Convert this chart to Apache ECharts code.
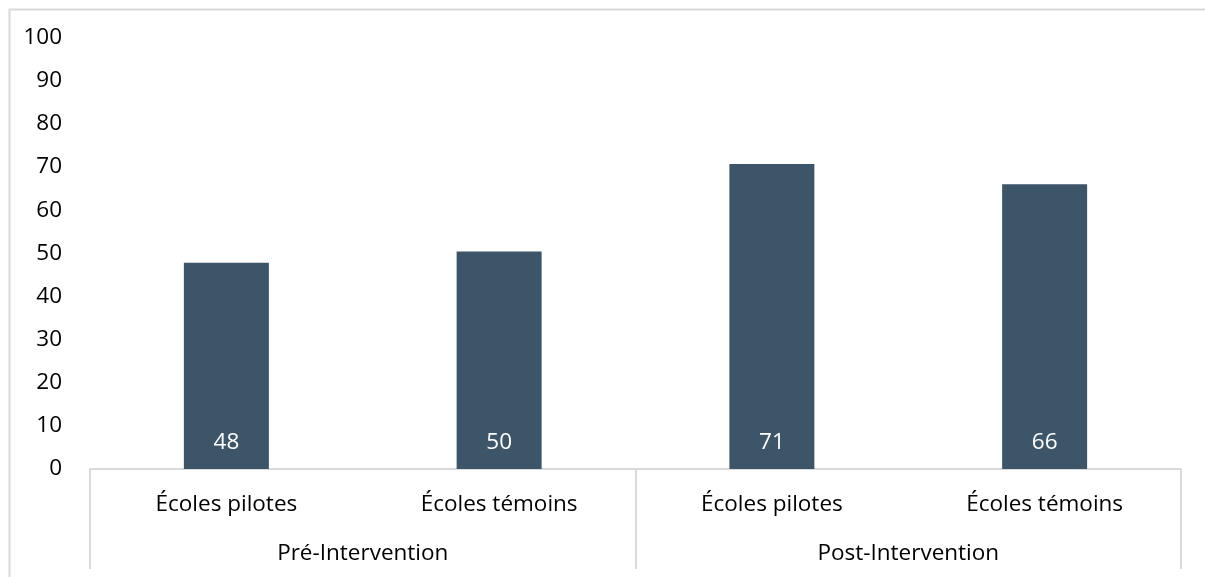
<!DOCTYPE html>
<html><head><meta charset="utf-8">
<script src="https://cdn.jsdelivr.net/npm/echarts@6/dist/echarts.min.js"></script>
<style>html,body{margin:0;padding:0;background:#fff}#c{width:1205px;height:577px}</style>
</head><body><div id="c"></div>
<script>
const categories = ["Écoles pilotes", "Écoles témoins", "Écoles pilotes", "Écoles témoins"];
const groups = ["Pré-Intervention", "Post-Intervention"];
const values = [47.8, 50.4, 70.7, 66.0];
const yTicks = { min: 0, max: 100, interval: 10 };

const chart = echarts.init(document.getElementById('c'), null, { renderer: 'canvas' });
const font = '"Open Sans", "Noto Sans", sans-serif';
const fs = 22.5;
chart.setOption({
  animation: false,
  textStyle: { fontFamily: font },
  graphic: [{
    type: 'rect', left: 7, top: 7, silent: true,
    shape: { x: 0, y: 0, width: 1260, height: 640 },
    style: { fill: 'none', stroke: '#d9d9d9', lineWidth: 2 }
  }],
  grid: { left: 90, right: 24, top: 37.5, bottom: 108, containLabel: false },
  xAxis: [{
    type: 'category', data: categories, position: 'bottom',
    axisLine: { show: true, lineStyle: { color: '#d9d9d9', width: 2 } },
    axisTick: { show: false },
    axisLabel: { color: '#000', fontSize: fs, margin: 24, fontFamily: font }
  }, {
    type: 'category', data: groups, position: 'bottom',
    axisLine: { show: false },
    axisTick: { show: true, length: 100, interval: 0, lineStyle: { color: '#d9d9d9', width: 2 } },
    axisLabel: { color: '#000', fontSize: fs, margin: 73, fontFamily: font }
  }],
  yAxis: {
    type: 'value', min: yTicks.min, max: yTicks.max, interval: yTicks.interval,
    axisLine: { show: false }, axisTick: { show: false },
    splitLine: { show: false },
    axisLabel: { color: '#000', fontSize: fs, margin: 28, fontFamily: font }
  },
  series: [{
    type: 'bar', data: values, xAxisIndex: 0, barWidth: 85,
    itemStyle: { color: '#3d5569' },
    label: {
      show: true, position: 'insideBottom', distance: 15,
      color: '#fff', fontSize: fs, fontFamily: font,
      formatter: p => Math.round(p.value)
    }
  }]
});
</script></body></html>
